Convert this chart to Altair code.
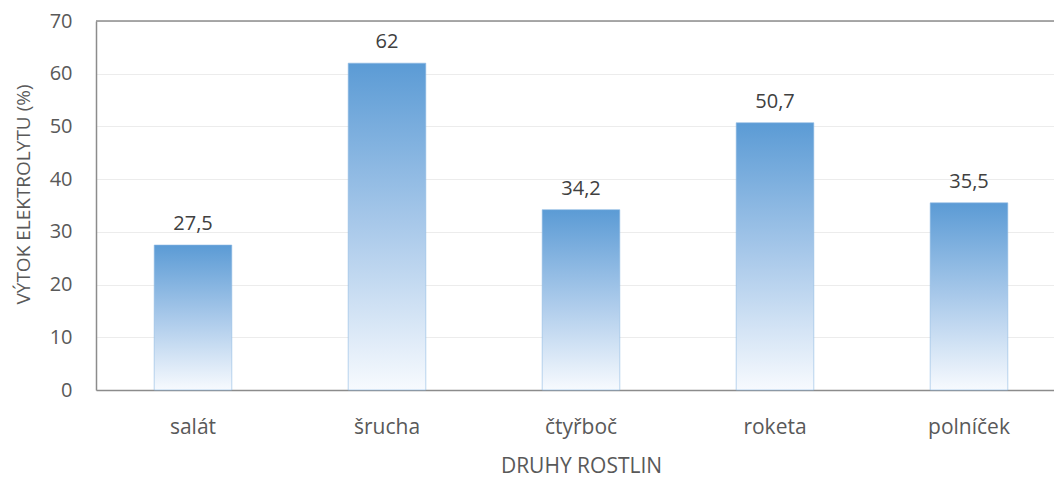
import altair as alt
import pandas as pd

# Electrolyte leakage by plant species
druhy = ["salát", "šrucha", "čtyřboč", "roketa", "polníček"]
vytok = [27.5, 62, 34.2, 50.7, 35.5]

df = pd.DataFrame({"druh": druhy, "vytok": vytok})

FONT = "Open Sans"
AXIS_GREY = "#595959"

gradient = alt.Gradient(
    gradient="linear",
    stops=[
        alt.GradientStop(color="#5b9bd5", offset=0),
        alt.GradientStop(color="#a9c9ea", offset=0.5),
        alt.GradientStop(color="#f7fafe", offset=1),
    ],
    x1=0, x2=0, y1=0, y2=1,
)

x_enc = alt.X(
    "druh:N",
    sort=druhy,
    scale=alt.Scale(range=[0, 970], paddingInner=0.6, paddingOuter=0.3),
    axis=alt.Axis(
        title="DRUHY ROSTLIN",
        labelAngle=0,
        labelFont=FONT,
        labelFontSize=21,
        labelColor=AXIS_GREY,
        labelPadding=26,
        ticks=False,
        domainColor="#8c8c8c",
        domainWidth=1.5,
        titleFont=FONT,
        titleFontSize=21,
        titleFontWeight="normal",
        titleColor=AXIS_GREY,
        titleX=485,
        titleY=76,
        titleBaseline="middle",
    ),
)

y_enc = alt.Y(
    "vytok:Q",
    scale=alt.Scale(domain=[0, 70]),
    axis=alt.Axis(
        title="VÝTOK ELEKTROLYTU (%)",
        values=[0, 10, 20, 30, 40, 50, 60, 70],
        labelFont=FONT,
        labelFontSize=20,
        labelColor=AXIS_GREY,
        labelPadding=24,
        ticks=False,
        domainColor="#8c8c8c",
        domainWidth=1.5,
        gridColor="#ececec",
        gridWidth=1,
        titleFont=FONT,
        titleFontSize=19,
        titleFontWeight="normal",
        titleColor=AXIS_GREY,
        titleX=-73,
        titleY=173,
        titleBaseline="middle",
    ),
)

bars = alt.Chart(df).mark_bar(
    color=gradient, stroke="#8db9e3", strokeWidth=0.6
).encode(x=x_enc, y=y_enc)

labels = alt.Chart(df).transform_calculate(
    txt="replace(toString(datum.vytok), '.', ',')"
).mark_text(
    font=FONT, fontSize=20, color="#404040", baseline="alphabetic", dy=-15
).encode(
    x=alt.X("druh:N", sort=druhy),
    y=alt.Y("vytok:Q"),
    text="txt:N",
)

top_line = alt.Chart(pd.DataFrame({"v": [70]})).mark_rule(
    color="#8c8c8c", strokeWidth=1.5
).encode(y="v:Q")

chart = (
    alt.layer(bars, labels, top_line)
    .properties(
        width=958,
        height=369,
        autosize=alt.AutoSizeParams(type="none"),
        padding={"left": 96, "top": 21, "right": 0, "bottom": 88},
        background="white",
    )
    .configure_view(stroke=None)
)

chart.save("out.html", embed_options={"renderer": "svg", "actions": False})
